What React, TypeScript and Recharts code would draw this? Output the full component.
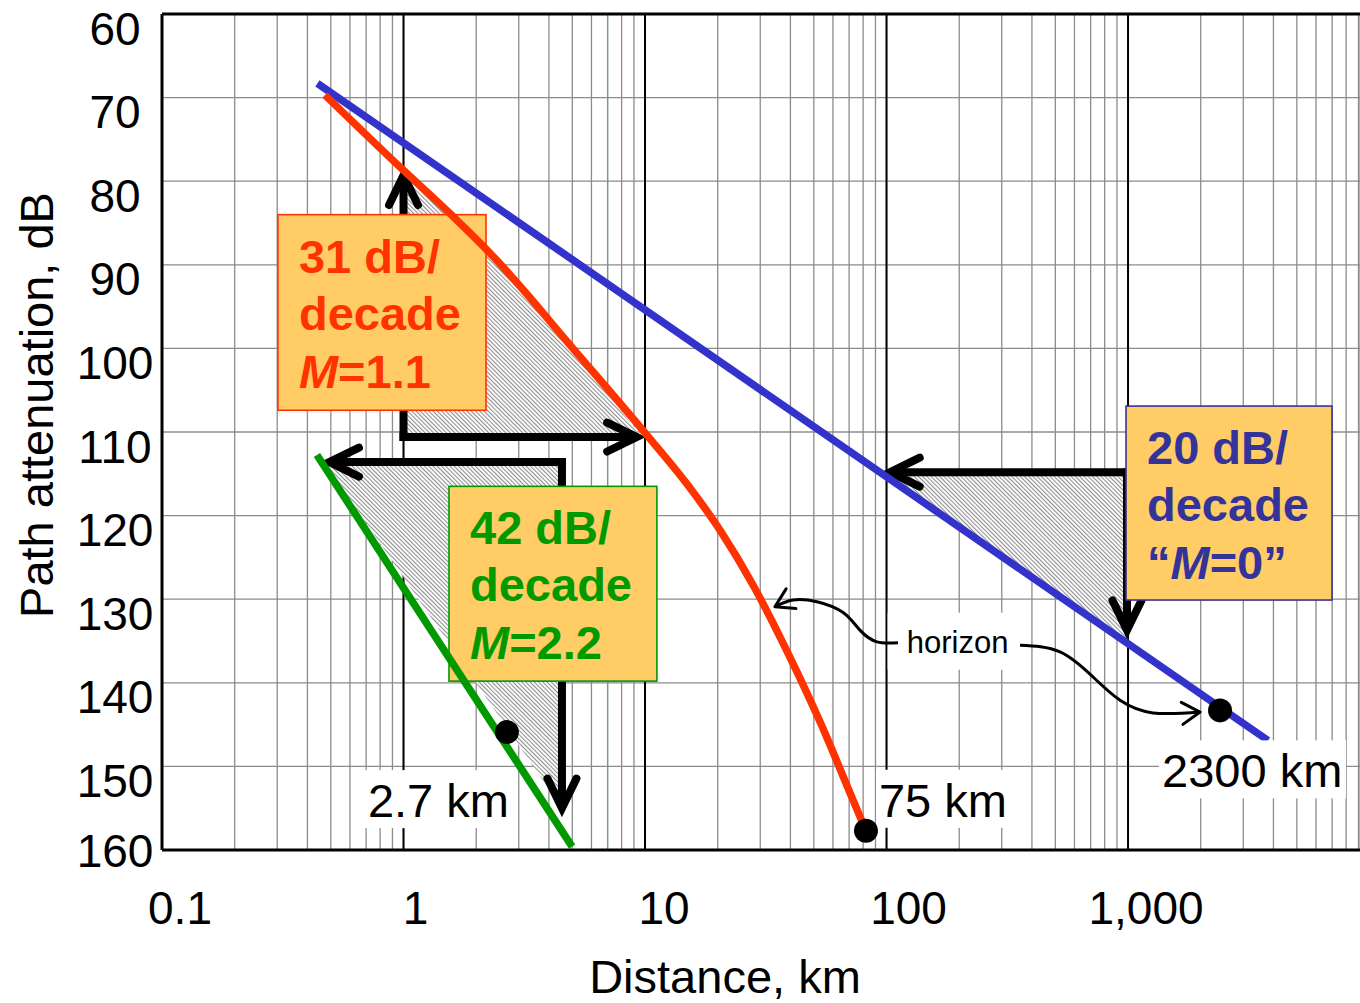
import React from 'react';
import {
  ComposedChart,
  Line,
  Area,
  XAxis,
  YAxis,
  CartesianGrid,
  ReferenceLine,
  ReferenceArea,
  ReferenceDot,
} from 'recharts';

const FONT = '"Liberation Sans", Arial, Helvetica, sans-serif';

// ---------- axes ----------
const distanceGridTicks = [
  0.1, 0.2, 0.3, 0.4, 0.5, 0.6, 0.7, 0.8, 0.9,
  1, 2, 3, 4, 5, 6, 7, 8, 9,
  10, 20, 30, 40, 50, 60, 70, 80, 90,
  100, 200, 300, 400, 500, 600, 700, 800, 900,
  1000, 2000, 3000, 4000, 5000, 6000, 7000, 8000, 9000,
];
const decadeTicks = [0.1, 1, 10, 100, 1000];
const decadeTickLabels = ['0.1', '1', '10', '100', '1,000'];
const attenuationTicks = [60, 70, 80, 90, 100, 110, 120, 130, 140, 150, 160];

// ---------- curves (d = distance km, v = path attenuation dB) ----------
const freeSpaceLine = [
  { d: 0.44, v: 68.3 },
  { d: 3800, v: 146.9 },
];
const m11Curve = [
  { d: 0.473, v: 69.7 },
  { d: 1, v: 78.7 },
  { d: 1.56, v: 83.9 },
  { d: 2.44, v: 89.5 },
  { d: 3.24, v: 93.5 },
  { d: 4.45, v: 98.2 },
  { d: 10, v: 110.1 },
  { d: 14.9, v: 116.2 },
  { d: 20.5, v: 121.8 },
  { d: 28, v: 128.3 },
  { d: 38.7, v: 136.2 },
  { d: 53.1, v: 144.7 },
  { d: 72.6, v: 154.0 },
  { d: 82.2, v: 157.7 },
];
const m22Line = [
  { d: 0.438, v: 112.75 },
  { d: 4.99, v: 159.6 },
];

// horizon points
const horizonDots = [
  { d: 2.68, v: 145.9, label: '2.7 km' },
  { d: 82.2, v: 157.7, label: '75 km' },
  { d: 2404, v: 143.3, label: '2300 km' },
];
const horizonWordAt = { d: 197, v: 135.2 };
const horizonLeftCurve = [
  { d: 111.6, v: 135.2 },
  { d: 91.3, v: 135.1 },
  { d: 77.6, v: 133.7 },
  { d: 66.1, v: 131.6 },
  { d: 51.5, v: 130.3 },
  { d: 41.0, v: 130.1 },
  { d: 34.5, v: 130.9 },
];
const horizonRightCurve = [
  { d: 357, v: 135.5 },
  { d: 523, v: 136.3 },
  { d: 716, v: 139.3 },
  { d: 927, v: 142.1 },
  { d: 1268, v: 143.6 },
  { d: 1987, v: 143.5 },
];

// hatched slope wedges: r = [flat side, curve side]
const redWedge = [
  { d: 1, r: [110.6, 78.7] },
  { d: 1.56, r: [110.6, 83.9] },
  { d: 2.44, r: [110.6, 89.5] },
  { d: 3.24, r: [110.6, 93.5] },
  { d: 4.45, r: [110.6, 98.2] },
  { d: 9.7, r: [110.6, 110.6] },
];
const greenWedge = [
  { d: 0.47, r: [113.6, 113.6] },
  { d: 4.53, r: [113.6, 155] },
];
const blueWedge = [
  { d: 98.6, r: [114.8, 115.4] },
  { d: 990, r: [114.8, 135.3] },
];

// slope arrows
const slopeArrows = [
  { from: { d: 1, v: 110.6 }, to: { d: 1, v: 78.7 } },
  { from: { d: 1, v: 110.6 }, to: { d: 9.7, v: 110.6 } },
  { from: { d: 4.53, v: 113.6 }, to: { d: 0.47, v: 113.6 } },
  { from: { d: 4.53, v: 113.6 }, to: { d: 4.53, v: 155.6 } },
  { from: { d: 990, v: 114.8 }, to: { d: 98.6, v: 114.8 } },
  { from: { d: 990, v: 114.8 }, to: { d: 990, v: 134.3 } },
];

// slope boxes
const slopeBoxes = [
  { x1: 0.302, x2: 2.196, y1: 84.0, y2: 107.4, rate: '31 dB/', pre: '', post: '=1.1', color: '#FF3300' },
  { x1: 1.543, x2: 11.2, y1: 116.5, y2: 139.8, rate: '42 dB/', pre: '', post: '=2.2', color: '#009900' },
  { x1: 981, x2: 6993, y1: 106.9, y2: 130.1, rate: '20 dB/', pre: '\u201C', post: '=0\u201D', color: '#333399' },
];

// ---------- styles ----------
const BLUE = '#3333CC';
const RED = '#FF3300';
const GREEN = '#009900';
const BOX_FILL = '#FFCC66';
const GRID = '#8c8c8c';

const labelStyle: Record<string, { dx: number; dy: number; w: number }> = {
  '2.7 km': { dx: -139, dy: 85, w: 142 },
  '75 km': { dx: 13, dy: -14, w: 128 },
  '2300 km': { dx: -58, dy: 77, w: 181 },
};
const tickShift: Record<string, number> = { '0.1': 18, '1': 12, '10': 19, '100': 22, '1,000': 18 };

const XTick = (props: any) => {
  const { x, y, payload } = props;
  const i = decadeTicks.indexOf(payload.value);
  if (i < 0) return <g />;
  const lab = decadeTickLabels[i];
  return (
    <text x={x + tickShift[lab]} y={y + 73.5} textAnchor="middle" fontFamily={FONT} fontSize={46} fill="#000">
      {lab}
    </text>
  );
};

const YTick = (props: any) => {
  const { x, y, payload } = props;
  const shift = payload.value === 160 ? 0 : 14;
  return (
    <text x={x - 47} y={y + shift + 16.5} textAnchor="middle" fontFamily={FONT} fontSize={46} fill="#000">
      {payload.value}
    </text>
  );
};

const XTitle = (props: any) => {
  const vb = props.viewBox || { x: 162, y: 850, width: 1198, height: 153 };
  return (
    <text x={vb.x + vb.width / 2 - 36} y={vb.y + 143} textAnchor="middle" fontFamily={FONT} fontSize={47} fill="#000">
      Distance, km
    </text>
  );
};

const YTitle = (props: any) => {
  const vb = props.viewBox || { x: 0, y: 14, width: 162, height: 836 };
  const cx = vb.x + 53;
  const cy = vb.y + vb.height / 2 - 27;
  return (
    <text x={cx} y={cy} transform={`rotate(-90, ${cx}, ${cy})`} textAnchor="middle" fontFamily={FONT} fontSize={47} fill="#000">
      Path attenuation, dB
    </text>
  );
};

const ArrowShape = (p: any) => {
  const { x1, y1, x2, y2 } = p;
  const a = Math.atan2(y2 - y1, x2 - x1);
  const ux = Math.cos(a);
  const uy = Math.sin(a);
  const tx = x2 - ux * 5;
  const ty = y2 - uy * 5;
  const L = 33;
  const s = (26 * Math.PI) / 180;
  const ax = tx - L * Math.cos(a - s);
  const ay = ty - L * Math.sin(a - s);
  const bx = tx - L * Math.cos(a + s);
  const by = ty - L * Math.sin(a + s);
  return (
    <g>
      <line x1={x1} y1={y1} x2={tx - ux * 4} y2={ty - uy * 4} stroke="#000" strokeWidth={8} strokeLinecap="square" />
      <polyline points={`${ax},${ay} ${tx},${ty} ${bx},${by}`} fill="none" stroke="#000" strokeWidth={8} strokeLinecap="round" strokeLinejoin="miter" />
    </g>
  );
};

const makeBoxShape = (box: any) => (p: any) => {
  const { x, y, width, height } = p;
  const tx = x + 21;
  return (
    <g>
      <rect x={x} y={y} width={width} height={height} fill={BOX_FILL} stroke={box.color} strokeWidth={1.6} />
      <text fontFamily={FONT} fontWeight="bold" fontSize={47} fill={box.color}>
        <tspan x={tx} y={y + 58}>{box.rate}</tspan>
        <tspan x={tx} y={y + 115}>decade</tspan>
        <tspan x={tx} y={y + 173}>
          {box.pre}
          <tspan fontStyle="italic">M</tspan>
          {box.post}
        </tspan>
      </text>
    </g>
  );
};

const makeDotShape = (label: string) => (p: any) => {
  const { cx, cy } = p;
  const st = labelStyle[label];
  const lx = cx + st.dx;
  const by = cy + st.dy;
  return (
    <g>
      <rect x={lx - 3} y={by - 47} width={st.w + 6} height={58} fill="#fff" />
      <text x={lx} y={by} fontFamily={FONT} fontSize={47} fill="#000">
        {label}
      </text>
      <circle cx={cx} cy={cy} r={12} fill="#000" />
    </g>
  );
};

const HorizonWord = (p: any) => {
  const { cx, cy } = p;
  return (
    <g>
      <rect x={cx - 70} y={cy - 30} width={126} height={57} fill="#fff" />
      <text x={cx} y={cy + 10} textAnchor="middle" fontFamily={FONT} fontSize={31} fill="#000">
        horizon
      </text>
    </g>
  );
};

const Z: any = (z: number) => ({ zIndex: z });

export default function App() {
  return (
    <div style={{ position: 'absolute', left: 0, top: 0, width: 1360, height: 1003, overflow: 'hidden', background: '#fff' }}>
      <ComposedChart
        width={1360}
        height={1003}
        margin={{ top: 14, right: 0, bottom: 0, left: 0 }}
        style={{ fontFamily: FONT }}
      >
        <defs>
          <pattern id="hatch" patternUnits="userSpaceOnUse" width={3} height={3} patternTransform="rotate(-45)">
            <rect x={0} y={0} width={3} height={3} fill="#fff" />
            <rect x={0} y={0} width={1.1} height={3} fill="#8f8f8f" />
          </pattern>
          <marker id="thinHead" markerUnits="userSpaceOnUse" markerWidth={40} markerHeight={40} viewBox="-20 -20 40 40" refX={0} refY={0} orient="auto">
            <path d="M -18 -11 L 0 0 L -18 11" fill="none" stroke="#000" strokeWidth={3} strokeLinecap="round" strokeLinejoin="round" />
          </marker>
        </defs>
        <CartesianGrid stroke={GRID} strokeWidth={1.3} />
        <XAxis
          dataKey="d"
          type="number"
          scale="log"
          domain={[0.1, 9130]}
          allowDataOverflow
          ticks={distanceGridTicks}
          interval={0}
          tick={<XTick />}
          tickLine={false}
          tickSize={0}
          tickMargin={0}
          axisLine={{ stroke: '#000', strokeWidth: 3 }}
          height={153}
          label={{ content: (p: any) => <XTitle {...p} /> }}
        />
        <YAxis
          type="number"
          domain={[60, 160]}
          reversed
          allowDataOverflow
          ticks={attenuationTicks}
          interval={0}
          tick={<YTick />}
          tickLine={false}
          tickSize={0}
          tickMargin={0}
          axisLine={{ stroke: '#000', strokeWidth: 3 }}
          width={162}
          label={{ content: (p: any) => <YTitle {...p} /> }}
        />
        {decadeTicks.slice(1).map((t) => (
          <ReferenceLine key={`dec${t}`} x={t} stroke="#000" strokeWidth={2} {...Z(-50)} />
        ))}
        <ReferenceLine x={7} stroke="#66AA66" strokeWidth={1.2} {...Z(-50)} />

        <Area data={redWedge} dataKey="r" type="linear" stroke="none" fill="url(#hatch)" fillOpacity={1} isAnimationActive={false} {...Z(100)} />
        <Area data={greenWedge} dataKey="r" type="linear" stroke="none" fill="url(#hatch)" fillOpacity={1} isAnimationActive={false} {...Z(100)} />
        <Area data={blueWedge} dataKey="r" type="linear" stroke="none" fill="url(#hatch)" fillOpacity={1} isAnimationActive={false} {...Z(100)} />

        {slopeArrows.map((a, i) => (
          <ReferenceLine
            key={`arr${i}`}
            segment={[{ x: a.from.d, y: a.from.v }, { x: a.to.d, y: a.to.v }]}
            shape={ArrowShape}
            {...Z(150)}
          />
        ))}

        {slopeBoxes.map((b, i) => (
          <ReferenceArea key={`box${i}`} x1={b.x1} x2={b.x2} y1={b.y1} y2={b.y2} shape={makeBoxShape(b)} {...Z(200)} />
        ))}

        <Line data={freeSpaceLine} dataKey="v" type="linear" stroke={BLUE} strokeWidth={7.5} dot={false} activeDot={false} isAnimationActive={false} {...Z(400)} />
        <Line data={m11Curve} dataKey="v" type="monotone" stroke={RED} strokeWidth={7.5} dot={false} activeDot={false} isAnimationActive={false} {...Z(400)} />
        <Line data={m22Line} dataKey="v" type="linear" stroke={GREEN} strokeWidth={7.5} dot={false} activeDot={false} isAnimationActive={false} {...Z(400)} />

        <ReferenceDot x={horizonWordAt.d} y={horizonWordAt.v} r={0} shape={HorizonWord} {...Z(450)} />
        <Line data={horizonLeftCurve} dataKey="v" type="natural" stroke="#000" strokeWidth={3} dot={false} activeDot={false} markerEnd="url(#thinHead)" isAnimationActive={false} {...Z(460)} />
        <Line data={horizonRightCurve} dataKey="v" type="natural" stroke="#000" strokeWidth={3} dot={false} activeDot={false} markerEnd="url(#thinHead)" isAnimationActive={false} {...Z(460)} />

        {horizonDots.map((h) => (
          <ReferenceDot key={h.label} x={h.d} y={h.v} r={12} shape={makeDotShape(h.label)} {...Z(600)} />
        ))}

        <ReferenceLine y={60} stroke="#000" strokeWidth={3} {...Z(600)} />
      </ComposedChart>
    </div>
  );
}
